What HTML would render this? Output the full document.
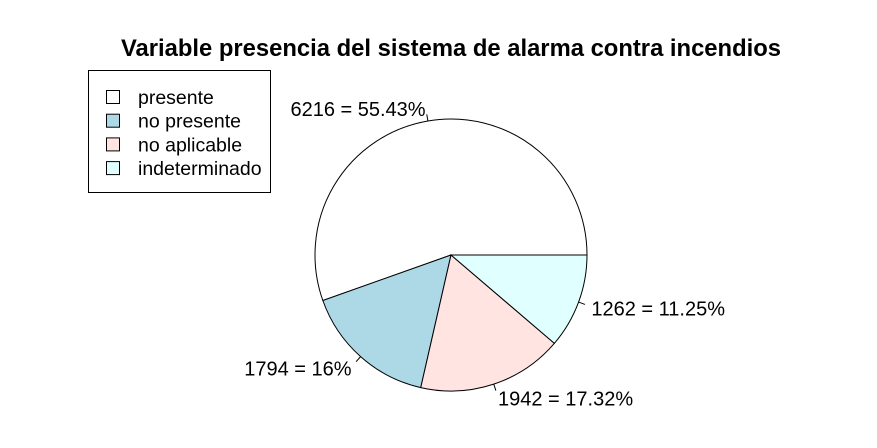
<!DOCTYPE html>
<html><head><meta charset="utf-8"><style>
body{margin:0;background:#fff}
svg{display:block;font-family:"Liberation Sans",Arial,sans-serif}
</style></head><body>
<svg id="chart" width="877" height="448" viewBox="0 0 877 448">
<rect width="877" height="448" fill="#fff"/>
<text x="451" y="56" text-anchor="middle" font-size="23.8" font-weight="bold">Variable presencia del sistema de alarma contra incendios</text>
<g id="slices"></g>
<g id="legend">
<rect x="88.5" y="70.5" width="182" height="122" fill="none" stroke="#000"/>
</g>
</svg>
<script>
const categories=["presente","no presente","no aplicable","indeterminado"];
const values=[6216,1794,1942,1262];
const pctLabels=["55.43%","16%","17.32%","11.25%"];
const colors=["#ffffff","#add8e6","#ffe4e1","#e0ffff"];
const NS="http://www.w3.org/2000/svg";
const cx=451,cy=255,r=136;
const total=values.reduce((a,b)=>a+b,0);
const g=document.getElementById('slices');
function pt(a,rr){return [cx+rr*Math.cos(a),cy-rr*Math.sin(a)];}
let acc=0;
values.forEach((v,i)=>{
  const a0=acc/total*2*Math.PI; acc+=v; const a1=acc/total*2*Math.PI;
  const p0=pt(a0,r),p1=pt(a1,r);
  const large=(a1-a0)>Math.PI?1:0;
  const path=document.createElementNS(NS,'path');
  path.setAttribute('d',`M${cx},${cy} L${p0[0]},${p0[1]} A${r},${r} 0 ${large} 0 ${p1[0]},${p1[1]} Z`);
  path.setAttribute('fill',colors[i]);path.setAttribute('stroke','#000');path.setAttribute('stroke-width','1');
  
  
  g.appendChild(path);
  const am=(a0+a1)/2;
  const t0=pt(am,r),t1=pt(am,r*1.05),tl=pt(am,r*1.1);
  const ln=document.createElementNS(NS,'line');
  ln.setAttribute('x1',t0[0]);ln.setAttribute('y1',t0[1]);ln.setAttribute('x2',t1[0]);ln.setAttribute('y2',t1[1]);
  ln.setAttribute('stroke','#000');
  
  
  g.appendChild(ln);
  const tx=document.createElementNS(NS,'text');
  tx.setAttribute('x',tl[0]);tx.setAttribute('y',tl[1]+8.5);tx.setAttribute('font-size','20');
  tx.setAttribute('text-anchor',Math.cos(am)>0?'start':'end');
  tx.textContent=v+' = '+pctLabels[i];
  
  
  g.appendChild(tx);
});
const lg=document.getElementById('legend');
categories.forEach((c,i)=>{
  const y=97+i*23.7;
  const s=document.createElementNS(NS,'rect');
  s.setAttribute('x',106.5);s.setAttribute('y',y-6.5);s.setAttribute('width',13);s.setAttribute('height',13);
  s.setAttribute('fill',colors[i]);s.setAttribute('stroke','#000');
  
  
  lg.appendChild(s);
  const t=document.createElementNS(NS,'text');
  t.setAttribute('x',138);t.setAttribute('y',y+7);t.setAttribute('font-size','19.5');
  t.textContent=c;
  
  
  lg.appendChild(t);
});
</script>
</body></html>
